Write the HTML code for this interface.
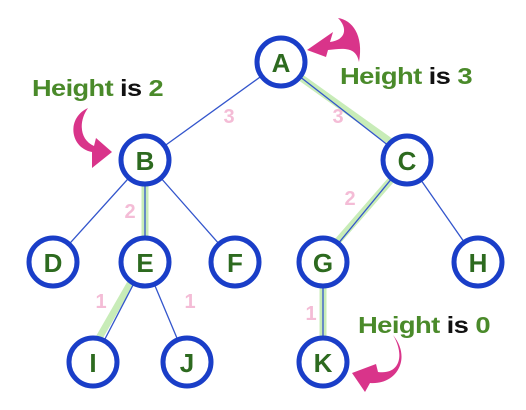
<!DOCTYPE html>
<html><head><meta charset="utf-8"><style>
html,body{margin:0;padding:0;background:#fff;}
svg{display:block;}
</style></head><body>
<svg width="526" height="410" viewBox="0 0 526 410" xmlns="http://www.w3.org/2000/svg" font-family="Liberation Sans, sans-serif" font-weight="bold">
<g stroke="#c8ecb8" stroke-width="7" stroke-linecap="round" fill="none">
<line x1="300" y1="77" x2="391" y2="142"/>
<line x1="145" y1="184" x2="145" y2="238"/>
<line x1="391" y1="180" x2="337" y2="242"/>
<line x1="130" y1="284" x2="99" y2="338"/>
<line x1="323" y1="286" x2="323" y2="340"/>
</g>
<g stroke="#3355cc" stroke-width="1.3" fill="none">
<line x1="281" y1="62" x2="145" y2="160"/>
<line x1="281" y1="62" x2="407" y2="160"/>
<line x1="145" y1="160" x2="53" y2="262"/>
<line x1="145" y1="160" x2="145" y2="262"/>
<line x1="145" y1="160" x2="235" y2="262"/>
<line x1="407" y1="160" x2="323" y2="262"/>
<line x1="407" y1="160" x2="478" y2="262"/>
<line x1="145" y1="262" x2="93" y2="362"/>
<line x1="145" y1="262" x2="187" y2="362"/>
<line x1="323" y1="262" x2="323" y2="362"/>
</g>
<g fill="#fff" stroke="#1a3ec8" stroke-width="5">
<circle cx="281" cy="62" r="24"/>
<circle cx="145" cy="160" r="24"/>
<circle cx="407" cy="160" r="24"/>
<circle cx="53" cy="262" r="24"/>
<circle cx="145" cy="262" r="24"/>
<circle cx="235" cy="262" r="24"/>
<circle cx="323" cy="262" r="24"/>
<circle cx="478" cy="262" r="24"/>
<circle cx="93" cy="362" r="24"/>
<circle cx="187" cy="362" r="24"/>
<circle cx="323" cy="362" r="24"/>
</g>
<g fill="#2d6a1f" font-size="26" text-anchor="middle">
<text x="281" y="72">A</text>
<text x="145" y="170">B</text>
<text x="407" y="170">C</text>
<text x="53" y="272">D</text>
<text x="145" y="272">E</text>
<text x="235" y="272">F</text>
<text x="323" y="272">G</text>
<text x="478" y="272">H</text>
<text x="93" y="372">I</text>
<text x="187" y="372">J</text>
<text x="323" y="372">K</text>
</g>
<g fill="#f4bcd6" font-size="20" text-anchor="middle">
<text x="229" y="123">3</text>
<text x="338" y="123">3</text>
<text x="130" y="218">2</text>
<text x="350" y="205">2</text>
<text x="101" y="308">1</text>
<text x="190" y="308">1</text>
<text x="311" y="320">1</text>
</g>
<g font-size="23" fill="#4a8a2a" letter-spacing="-0.5">
<text x="32" y="96" textLength="131" lengthAdjust="spacingAndGlyphs">Height <tspan fill="#111">is</tspan> 2</text>
<text x="340" y="84" textLength="132" lengthAdjust="spacingAndGlyphs">Height <tspan fill="#111">is</tspan> 3</text>
<text x="358" y="333" textLength="132" lengthAdjust="spacingAndGlyphs">Height <tspan fill="#111">is</tspan> 0</text>
</g>
<g fill="#d9348a">
<path d="M359,62 C364,35 352,20 338,18 C348,28 346,40 330,42 L333,32 L307,50 L326,57 L328,50 C345,48 356,47 359,62 Z"/>
<path d="M88,108 C66,118 70,148 92,152 L92,168 L112,152 L96,138 L94,146 C80,140 78,122 88,108 Z"/>
<path d="M393,335 C405,355 400,375 378,372 L376,364 L352,373 L365,392 L370,383 C397,385 412,358 393,335 Z"/>
</g>
</svg>
</body></html>
